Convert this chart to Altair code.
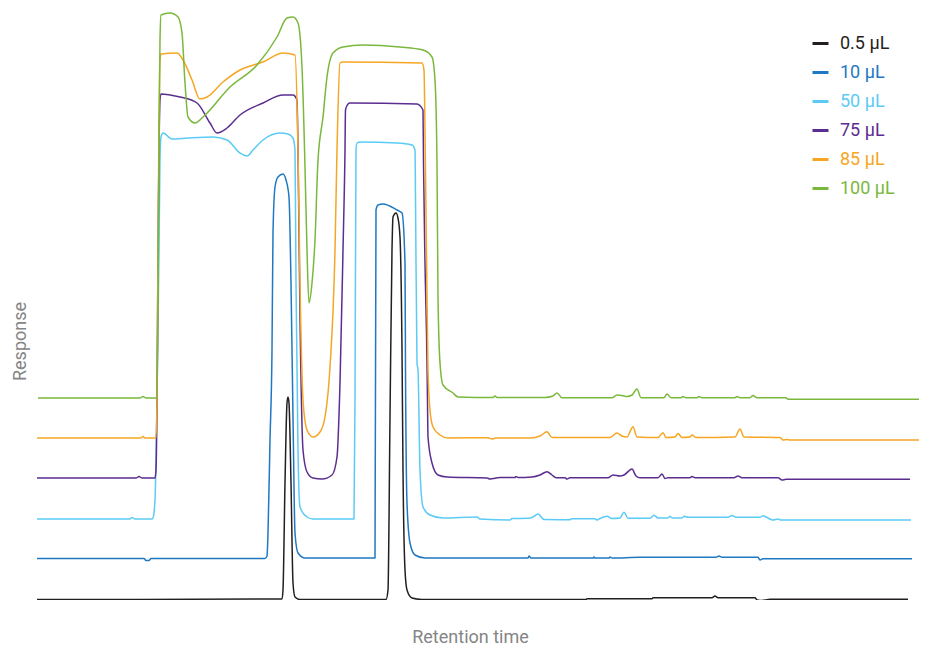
import altair as alt
import pandas as pd

series = ["0.5 µL", "10 µL", "50 µL", "75 µL", "85 µL", "100 µL"]
colors = ["#231f20", "#1f78c1", "#5bcbf5", "#5c2d91", "#f5a623", "#7ab83c"]
offsets = [0, 40, 80, 120, 160, 200]

t_05 = [37, 282, 283, 285, 287, 288, 289, 291, 293, 295, 300, 386, 388, 390, 392, 393, 396, 398, 400, 402, 403, 405, 407, 412, 422,
        586, 587, 652, 653, 712, 715, 718, 755, 757, 760, 765, 770, 908]
r_05 = [0.5, 1, 10, 117, 197, 203, 197, 117, 17, 3, 0.5, 0.5, 10, 183, 350, 383, 387, 382, 363, 250, 130, 30, 10, 2, 0.5,
        0.5, 1.2, 1.2, 2.2, 2.2, 4, 2.2, 2.2, 0, -0.5, 0, 0.7, 0.7]

t_10 = [36, 144, 146, 149, 151, 265, 267, 268, 270, 272, 273, 275, 278, 283, 286, 289, 291, 293, 295, 298, 305, 375, 376, 378,
        383, 397, 402, 405, 405.5, 407, 410, 415, 425, 528, 529, 531, 593, 594, 595, 609, 610, 612, 640, 716, 719, 722, 758,
        760, 763, 912]
r_10 = [1.5, 1.5, -0.5, -0.5, 1.5, 1.5, 4, 27, 120, 210, 327, 373, 383, 386, 380, 363, 277, 143, 27, 7, 2, 2, 350, 355,
        356, 350, 347, 297, 190, 57, 17, 5, 2, 2, 4, 2, 2, 3, 2, 2, 3, 2, 2.7, 2.7, 4, 2.7, 2.7,
        0, 1.3, 1.3]

t_50 = [34, 130, 132, 135, 152, 153, 155, 157, 159, 160, 161, 163, 172, 188, 213, 227, 240, 247, 253, 263, 280, 288, 293,
        295, 296, 298, 300, 307, 313, 354, 355, 356, 357, 360, 397, 412, 415, 415.5, 417, 418, 420, 423, 430, 443, 477, 480,
        510, 512, 528, 533, 538, 544, 570, 572, 595, 597, 600, 607, 612, 620, 624, 628, 650, 654, 658, 668, 670, 672, 682,
        684, 688, 728, 732, 736, 760, 763, 767, 773, 778, 781, 911]
r_50 = [1, 1, 2.5, 1, 1, 2, 20, 120, 270, 360, 383, 387, 381, 382, 383, 380, 367, 364, 370, 380, 387, 386, 382,
        370, 237, 70, 13, 3, 1, 1, 120, 370, 377, 378, 377, 375, 370, 323, 157, 150, 50, 13, 5, 2, 3, 1,
        0, 1.5, 1.7, 3, 6, 0.5, 0.3, 1.3, 1.3, 0, 1.5, 3.7, 1.5, 2, 7.7, 1.7, 1.7, 4.7, 2, 2, 3.7, 2, 2,
        3.7, 2.7, 2.7, 4.5, 2.7, 2.7, 4.3, 2.5, 0, 1, 0, 0]

t_75 = [35, 136, 139, 142, 155, 156, 157, 158, 159, 160, 161, 170, 180, 197, 210, 217, 227, 240, 263, 283, 293, 297, 298,
        300, 303, 307, 313, 322, 332, 337, 340, 343, 345, 345.5, 348, 350, 417, 423, 423.5, 425, 427, 427.5, 428, 432, 438,
        447, 487, 490, 500, 515, 516, 518, 532, 540, 547, 552, 556, 565, 567, 570, 608, 613, 620, 624, 632, 636, 640, 658,
        662, 665, 668, 690, 692, 695, 734, 738, 742, 778, 782, 786, 910]
r_75 = [2, 2, 3.5, 2, 2, 10, 80, 230, 330, 380, 386, 385, 383, 377, 357, 347, 352, 365, 377, 385, 385, 380, 330,
        163, 30, 8, 2, 1, 5, 23, 97, 230, 330, 370, 376, 377, 376, 370, 317, 217, 117, 77, 43, 17, 5,
        3, 2, 1, 2.5, 2.5, 3.5, 2.5, 3, 5, 8.3, 5, 2.3, 2.3, 1, 2.3, 2.3, 5, 4, 5, 11, 4, 2.3, 2.3,
        6, 1.5, 2.3, 2.3, 3.5, 2.3, 2.3, 4, 2.3, 2.3, 0, 0.7, 0.7]

t_85 = [37, 141, 143, 145, 156, 157, 158, 159, 160, 161, 177, 183, 192, 200, 207, 223, 240, 263, 283, 295, 298, 300, 303,
        307, 313, 320, 325, 330, 335, 337, 340, 343, 422, 424, 425, 427, 428, 430, 433, 440, 448, 488, 492, 496, 530, 540,
        547, 552, 610, 617, 622, 627, 633, 637, 658, 663, 666, 675, 678, 682, 690, 692, 696, 735, 740, 744, 780, 783, 787,
        790, 927]
r_85 = [2, 2, 3.5, 2, 2, 40, 190, 320, 380, 386, 387, 380, 360, 341, 343, 358, 370, 378, 387, 385, 290, 157, 40,
        10, 3, 8, 23, 73, 190, 290, 377, 378, 377, 370, 310, 143, 70, 30, 13, 5, 2, 2.3, 1, 2, 2, 4,
        8.3, 2.5, 2.5, 7, 4, 3, 13.3, 3, 2.5, 7.3, 2.5, 3, 6.5, 2.5, 3, 5, 2.5, 3, 11, 3, 2.5, 0, 0.5,
        0, 0]

t_100 = [38, 140, 143, 146, 157, 158, 159, 160, 161, 170, 178, 182, 185, 188, 195, 203, 230, 257, 277, 287, 293, 298, 302,
         305, 307, 309, 312, 315, 318, 323, 327, 333, 343, 363, 400, 423, 432, 435, 437, 438, 440, 443, 453, 458, 493, 495,
         497, 545, 553, 557, 562, 612, 617, 622, 627, 632, 637, 641, 664, 667, 671, 681, 683, 686, 697, 699, 702, 735, 737,
         740, 750, 753, 757, 786, 788, 927]
r_100 = [2, 2, 3.5, 2, 2, 100, 250, 360, 385, 387, 383, 367, 317, 283, 277, 283, 313, 335, 363, 382, 383, 377, 333,
         233, 150, 97, 117, 160, 240, 283, 323, 347, 353, 355, 353, 350, 343, 320, 237, 103, 37, 15, 7, 3, 2.5, 4,
         2.5, 2.5, 4, 7, 2.3, 2.3, 5, 4.5, 3.5, 5, 11, 2.3, 2.3, 6, 2.3, 2.3, 3.5, 2.3, 2.3, 3.5, 2.3, 2.3, 3.5,
         2.3, 2.3, 4.5, 2.3, 2.3, 0.7, 0.7]

times = [t_05, t_10, t_50, t_75, t_85, t_100]
resps = [r_05, r_10, r_50, r_75, r_85, r_100]

rows = []
for name, off, ts, rs in zip(series, offsets, times, resps):
    for i, (t, r) in enumerate(zip(ts, rs)):
        rows.append({"series": name, "idx": i, "time": t, "response": r + off})
df = pd.DataFrame(rows)

chart = alt.Chart(df).mark_line(strokeWidth=1.5, clip=True, strokeJoin="round", interpolate="monotone").encode(
    x=alt.X("time:Q", scale=alt.Scale(domain=[37, 919], nice=False, zero=False),
            axis=alt.Axis(title="Retention time", labels=False, ticks=False, domain=False, grid=False,
                          titleFontSize=18, titleFont="Roboto", titleFontWeight="normal", titleColor="#858585",
                          titleX=433, titleY=42, titleBaseline="alphabetic", titleAlign="center")),
    y=alt.Y("response:Q", scale=alt.Scale(domain=[0, 588], nice=False, zero=False),
            axis=alt.Axis(title="Response", labels=False, ticks=False, domain=False, grid=False,
                          titleFontSize=18, titleFont="Roboto", titleFontWeight="normal", titleColor="#858585",
                          titleX=-12, titleY=329, titleBaseline="alphabetic", titleAlign="center", titleAngle=270)),
    color=alt.Color("series:N", scale=alt.Scale(domain=series, range=colors), sort=series,
                    legend=alt.Legend(title=None, orient="none", legendX=774, legendY=22,
                                      symbolType="stroke", symbolStrokeWidth=3, symbolSize=256,
                                      labelFontSize=18, labelFont="Roboto", labelOffset=10,
                                      rowPadding=10, padding=0,
                                      labelColor=alt.ExprRef("scale('color', datum.value)"))),
    order=alt.Order("idx:Q"),
    detail="series:N",
).properties(
    width=882, height=588,
    autosize=alt.AutoSizeParams(type="none"),
    padding={"left": 29, "top": 4, "right": 0, "bottom": 45},
).configure_view(stroke=None)

chart.save("out.html", embed_options={"renderer": "svg", "actions": False})
